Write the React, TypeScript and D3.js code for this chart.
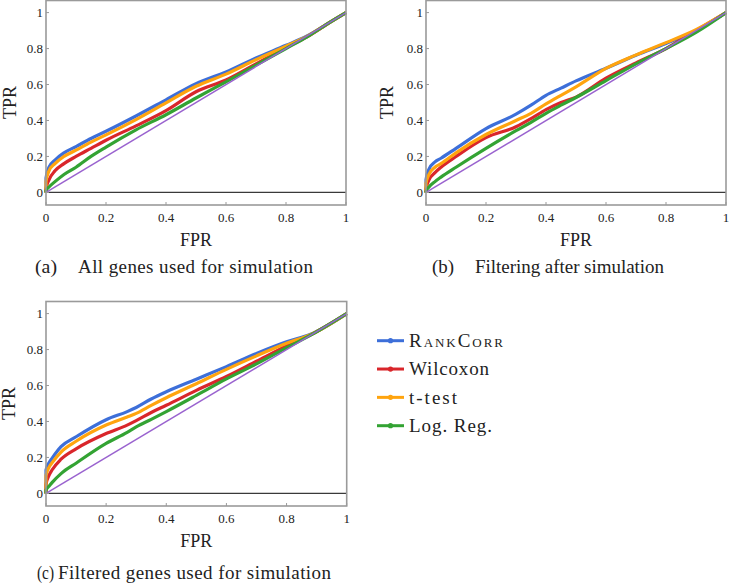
import React from 'react';
import * as d3 from 'd3';

// ROC points (fpr, tpr)
const fprA = [0, 0, 0.01, 0.03, 0.06, 0.1, 0.15, 0.2, 0.3, 0.4, 0.5, 0.6, 0.7, 0.8, 0.87, 0.95, 1];
const blueA = [0, 0.08, 0.14, 0.18, 0.22, 0.255, 0.3, 0.34, 0.425, 0.515, 0.605, 0.67, 0.748, 0.818, 0.87, 0.95, 1];
const redA = [0, 0.02, 0.07, 0.12, 0.16, 0.2, 0.245, 0.29, 0.37, 0.455, 0.56, 0.625, 0.715, 0.805, 0.865, 0.95, 1];
const orangeA = [0, 0.06, 0.12, 0.16, 0.2, 0.235, 0.28, 0.32, 0.405, 0.498, 0.59, 0.658, 0.738, 0.813, 0.868, 0.95, 1];
const greenA = [0, 0.01, 0.03, 0.06, 0.1, 0.14, 0.2, 0.252, 0.348, 0.432, 0.525, 0.615, 0.708, 0.8, 0.865, 0.95, 1];

const fprB = [0, 0, 0.01, 0.03, 0.05, 0.1, 0.2, 0.3, 0.35, 0.4, 0.45, 0.5, 0.6, 0.7, 0.8, 0.9, 1];
const blueB = [0, 0.07, 0.13, 0.17, 0.19, 0.245, 0.355, 0.435, 0.485, 0.54, 0.58, 0.62, 0.69, 0.763, 0.828, 0.9, 1];
const redB = [0, 0.02, 0.07, 0.11, 0.14, 0.2, 0.305, 0.365, 0.41, 0.46, 0.5, 0.53, 0.635, 0.72, 0.8, 0.9, 1];
const orangeB = [0, 0.05, 0.1, 0.14, 0.16, 0.22, 0.322, 0.4, 0.44, 0.492, 0.54, 0.587, 0.69, 0.765, 0.833, 0.905, 1];
const greenB = [0, 0.005, 0.03, 0.06, 0.085, 0.14, 0.245, 0.343, 0.39, 0.44, 0.485, 0.528, 0.622, 0.715, 0.8, 0.89, 1];

const fprC = [0, 0, 0.01, 0.02, 0.05, 0.1, 0.2, 0.27, 0.3, 0.35, 0.4, 0.5, 0.6, 0.7, 0.8, 0.88, 1];
const blueC = [0, 0.13, 0.17, 0.195, 0.26, 0.315, 0.41, 0.455, 0.478, 0.525, 0.565, 0.635, 0.705, 0.778, 0.843, 0.885, 1];
const redC = [0, 0.05, 0.1, 0.13, 0.19, 0.248, 0.333, 0.38, 0.405, 0.45, 0.49, 0.573, 0.65, 0.735, 0.82, 0.882, 1];
const orangeC = [0, 0.1, 0.145, 0.17, 0.23, 0.29, 0.38, 0.425, 0.445, 0.49, 0.532, 0.61, 0.69, 0.765, 0.835, 0.883, 1];
const greenC = [0, 0.02, 0.04, 0.06, 0.11, 0.168, 0.278, 0.34, 0.37, 0.412, 0.455, 0.545, 0.637, 0.72, 0.81, 0.88, 1];

const methods = ['RankCorr', 'Wilcoxon', 't-test', 'Log. Reg.'];
const colors = ['#3d6fd9', '#d9262b', '#ffa40e', '#33a333'];
const diagColor = '#9a63cf';
const xTicks = [0, 0.2, 0.4, 0.6, 0.8, 1];
const yTicks = [0, 0.2, 0.4, 0.6, 0.8, 1];
const captions = ['All genes used for simulation', 'Filtering after simulation', 'Filtered genes used for simulation'];
const captionTags = ['(a)', '(b)', '(c)'];

const FONT = 'Liberation Serif, DejaVu Serif, serif';

type PanelProps = {
  left: number;
  top: number;
  width: number;
  fpr: number[];
  series: number[][];
  tag: string;
  caption: string;
  tagX: number;
  tagLen: number;
  capX: number;
  capLen: number;
  capDy: number;
  tprX: number;
};

const txt = { fontFamily: FONT };

function Panel({ left, top, width, fpr, series, tag, caption, tagX, tagLen, capX, capLen, capDy, tprX }: PanelProps) {
  const height = 205;
  const x = d3.scaleLinear().domain([0, 1]).range([left, left + width]);
  const y = d3.scaleLinear().domain([-0.07, 1.07]).range([top + height, top]);
  const line = d3.line<number>()
    .x((_, i) => x(fpr[i]))
    .y(d => y(d))
    .curve(d3.curveMonotoneX);
  const bottom = top + height;
  const order = [0, 1, 2, 3];

  return (
    <g>
      <line x1={x(0)} x2={x(1)} y1={y(0)} y2={y(0)} stroke="#3a3a3a" strokeWidth={1.2} />
      {order.map(k => (
        <path key={k} d={line(series[k]) || ''} fill="none" stroke={colors[k]} strokeWidth={3.2} strokeLinejoin="round" />
      ))}
      <line x1={x(0)} y1={y(0)} x2={x(1)} y2={y(1)} stroke={diagColor} strokeWidth={1.5} />
      <rect x={left} y={top + 0.5} width={width} height={height - 0.5} fill="none" stroke="#9a9a9a" strokeWidth={1.6} />
      {xTicks.map(t => (
        <g key={'x' + t}>
          <line x1={x(t)} x2={x(t)} y1={bottom} y2={bottom - 3} stroke="#9a9a9a" strokeWidth={1} />
          <text x={x(t)} y={bottom + 17} textAnchor="middle" fontSize={13} style={txt} fill="#222">{t}</text>
        </g>
      ))}
      {yTicks.map(t => (
        <g key={'y' + t}>
          <line x1={left} x2={left + 3} y1={y(t)} y2={y(t)} stroke="#9a9a9a" strokeWidth={1} />
          <text x={left - 3} y={y(t)} dy="0.35em" textAnchor="end" fontSize={13} style={txt} fill="#222">{t}</text>
        </g>
      ))}
      <text x={x(0.5)} y={bottom + 41} textAnchor="middle" fontSize={18} style={txt} fill="#222">FPR</text>
      <text transform={`translate(${tprX},${top + height / 2}) rotate(-90)`} textAnchor="middle" dy="0.35em" fontSize={18} style={txt} fill="#222">TPR</text>
      <text x={tagX} y={bottom + capDy} fontSize={19} style={txt} fill="#222" textLength={tagLen} lengthAdjust="spacingAndGlyphs">{tag}</text>
      <text x={capX} y={bottom + capDy} fontSize={19} style={txt} fill="#222" textLength={capLen} lengthAdjust="spacing">{caption}</text>
    </g>
  );
}

function Legend({ x0, y0 }: { x0: number; y0: number }) {
  const rows = d3.scaleLinear().domain([0, 3]).range([y0, y0 + 85]);
  const lens = [94, 80, 48, 83];
  return (
    <g>
      {methods.map((m, i) => (
        <g key={m}>
          <line x1={x0} x2={x0 + 27} y1={rows(i)} y2={rows(i)} stroke={colors[i]} strokeWidth={3} />
          <circle cx={x0 + 13.5} cy={rows(i)} r={2.6} fill={colors[i]} />
          <text x={x0 + 32} y={rows(i)} dy="0.33em" fontSize={19} fill="#222"
            style={{ fontFamily: FONT, fontVariant: i === 0 ? 'small-caps' : 'normal' }} textLength={lens[i]} lengthAdjust="spacing">{m}</text>
        </g>
      ))}
    </g>
  );
}

export default function App() {
  return (
    <svg width={729} height={583} style={{ position: 'absolute', left: 0, top: 0, background: '#fff' }}>
      <Panel left={46} top={0} width={300} fpr={fprA} series={[blueA, redA, orangeA, greenA]}
        tag={captionTags[0]} caption={captions[0]} tagX={35} tagLen={22} capX={78} capLen={235} capDy={68} tprX={10} />
      <Panel left={426} top={0} width={300} fpr={fprB} series={[blueB, redB, orangeB, greenB]}
        tag={captionTags[1]} caption={captions[1]} tagX={432} tagLen={22} capX={475} capLen={189} capDy={68} tprX={387} />
      <Panel left={46} top={301} width={300.7} fpr={fprC} series={[blueC, redC, orangeC, greenC]}
        tag={captionTags[2]} caption={captions[2]} tagX={37} tagLen={17} capX={58} capLen={273} capDy={73} tprX={9} />
      <Legend x0={377} y0={340.7} />
    </svg>
  );
}
